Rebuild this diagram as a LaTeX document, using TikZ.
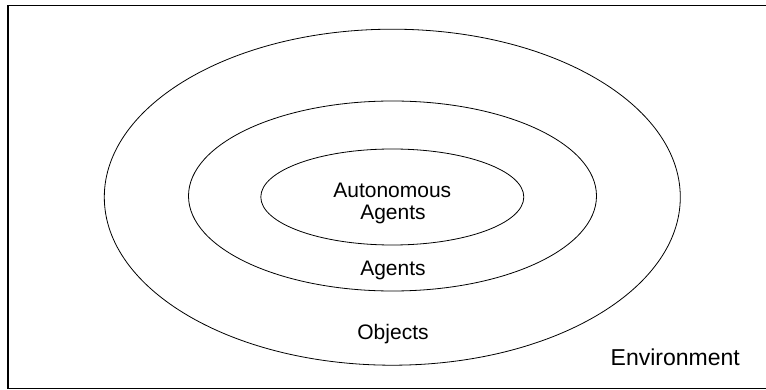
\documentclass[tikz,border=0pt]{standalone}
\usepackage{fontspec}
\setmainfont{Liberation Sans}
\usetikzlibrary{shapes.geometric}

\tikzset{
    ring/.style={ellipse, draw=black, line width=0.8pt, inner sep=0pt},
    lbl/.style={anchor=base, inner sep=0pt, font=\fontsize{21}{24}\selectfont}
}

\begin{document}
\begin{tikzpicture}[x=1pt, y=-1pt]

    \useasboundingbox (0,0) rectangle (766,390);
    \draw[line width=1.3pt] (8,5.5) rectangle (790,388.5);

    \node[ring, minimum width=576pt, minimum height=336pt] (objring) at (392.3,197.2) {};
    \node[ring, minimum width=408pt, minimum height=190pt] (agring) at (392.5,196) {};
    \node[ring, minimum width=263pt, minimum height=96pt] (autoring) at (392.3,197) {};

    \node[lbl] (autotop) at (392.3,197.5) {Autonomous};
    \node[lbl] (autobot) at (393,219.5) {Agents};
    \node[lbl] (agents) at (393,276) {Agents};
    \node[lbl] (objects) at (393,339) {Objects};
    \node[lbl, font=\fontsize{23}{26}\selectfont] (env) at (675.3,365) {Environment};

\end{tikzpicture}
\end{document}
